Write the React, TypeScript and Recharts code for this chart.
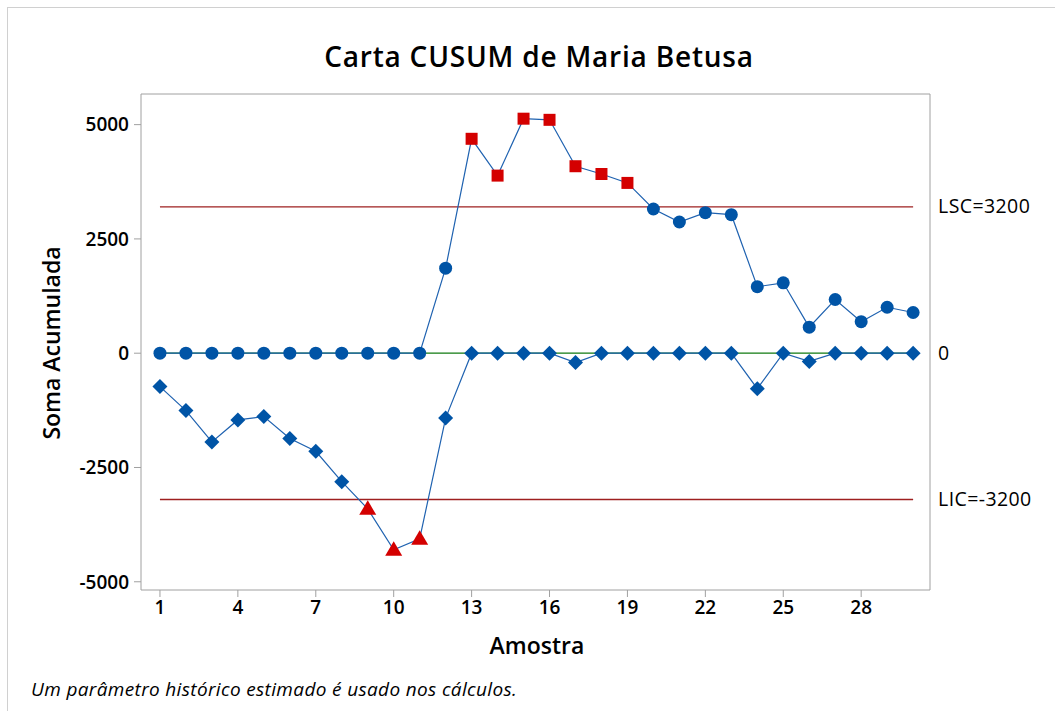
import React from 'react';
import { ComposedChart, Line, XAxis, YAxis, ReferenceArea } from 'recharts';

const samples = [1, 2, 3, 4, 5, 6, 7, 8, 9, 10, 11, 12, 13, 14, 15, 16, 17, 18, 19, 20, 21, 22, 23, 24, 25, 26, 27, 28, 29, 30];
const upperCusum = [0, 0, 0, 0, 0, 0, 0, 0, 0, 0, 0, 1860, 4690, 3885, 5130, 5105, 4090, 3920, 3725, 3155, 2870, 3075, 3030, 1455, 1540, 570, 1175, 690, 1005, 890];
const lowerCusum = [-730, -1255, -1940, -1460, -1385, -1865, -2145, -2810, -3405, -4300, -4060, -1420, 0, 0, 0, 0, -205, 0, 0, 0, 0, 0, 0, -775, 0, -180, 0, 0, 0, 0];
const LSC = 3200;
const LIC = -3200;
const CENTER = 0;
const xTicks = [1, 4, 7, 10, 13, 16, 19, 22, 25, 28];
const yTicks = [-5000, -2500, 0, 2500, 5000];
const xDomain = [0.27, 30.65];
const yDomain = [-5180, 5670];

const data = samples.map((s, i) => ({
  sample: s,
  upper: upperCusum[i],
  lower: lowerCusum[i],
  lsc: LSC,
  lic: LIC,
  center: CENTER,
}));

const BLUE = '#0054a6';
const LINE_BLUE = '#1f62b0';
const RED = '#d40000';
const LIMIT = '#9e2020';
const GREEN = '#107a10';
const FONT = '"Open Sans", "Noto Sans", sans-serif';

const UpperDot = (props: any) => {
  const { cx, cy, value, index } = props;
  if (cx == null || cy == null) return null;
  if (value > LSC) {
    return <rect key={`u${index}`} x={cx - 6} y={cy - 6} width={12} height={12} fill={RED} />;
  }
  return <circle key={`u${index}`} cx={cx} cy={cy} r={6.5} fill={BLUE} />;
};

const LowerDot = (props: any) => {
  const { cx, cy, value, index } = props;
  if (cx == null || cy == null) return null;
  if (value < LIC) {
    return (
      <polygon
        key={`l${index}`}
        points={`${cx},${cy - 8.5} ${cx - 8.5},${cy + 6} ${cx + 8.5},${cy + 6}`}
        fill={RED}
      />
    );
  }
  const d = 7.5;
  return (
    <polygon
      key={`l${index}`}
      points={`${cx},${cy - d} ${cx + d},${cy} ${cx},${cy + d} ${cx - d},${cy}`}
      fill={BLUE}
    />
  );
};

const makeEndLabel = (text: string) => (props: any) => {
  const { x, y, index } = props;
  if (index !== samples.length - 1) return null;
  return (
    <text key={`lab-${text}`} x={x + 25} y={y} dy={6.5} fontSize={19.5} letterSpacing={0.4} fontFamily={FONT} fill="#000" textAnchor="start">
      {text}
    </text>
  );
};

export default function App() {
  return (
    <div style={{ position: 'absolute', left: 0, top: 0, width: 1055, height: 711, background: '#fff', overflow: 'hidden' }}>
      <div
        style={{
          position: 'absolute',
          left: 7,
          top: 7,
          width: 1100,
          height: 800,
          borderTop: '1px solid #d0d0d0',
          borderLeft: '1px solid #d0d0d0',
        }}
      />
      <div style={{ position: 'absolute', left: 0, top: 0 }}>
        <ComposedChart
          width={1055}
          height={711}
          data={data}
          margin={{ top: 94, right: 125, bottom: 91, left: 81 }}
        >
          <XAxis
            dataKey="sample"
            type="number"
            domain={xDomain}
            ticks={xTicks}
            allowDataOverflow
            axisLine={false}
            tickLine={{ stroke: '#a0a0a0' }}
            tickSize={7}
            tickMargin={4}
            height={30}
            tick={{ fill: '#000', fontSize: 19, fontWeight: 600, fontFamily: FONT }}
          />
          <YAxis
            type="number"
            domain={yDomain}
            ticks={yTicks}
            allowDataOverflow
            axisLine={false}
            tickLine={{ stroke: '#a0a0a0' }}
            tickSize={7}
            tickMargin={5}
            width={60}
            tick={{ fill: '#000', fontSize: 19, fontWeight: 600, fontFamily: FONT }}
          />
          <ReferenceArea
            x1={xDomain[0]}
            x2={xDomain[1]}
            y1={yDomain[0]}
            y2={yDomain[1]}
            fill="none"
            stroke="#a0a0a0"
            strokeWidth={1}
          />
          <Line dataKey="center" stroke={GREEN} strokeWidth={1.3} dot={false} isAnimationActive={false} label={makeEndLabel('0')} />
          <Line dataKey="lsc" stroke={LIMIT} strokeWidth={1.3} dot={false} isAnimationActive={false} label={makeEndLabel('LSC=3200')} />
          <Line dataKey="lic" stroke={LIMIT} strokeWidth={1.3} dot={false} isAnimationActive={false} label={makeEndLabel('LIC=-3200')} />
          <Line dataKey="lower" stroke={LINE_BLUE} strokeWidth={1.2} dot={LowerDot} activeDot={false} isAnimationActive={false} />
          <Line dataKey="upper" stroke={LINE_BLUE} strokeWidth={1.2} dot={UpperDot} activeDot={false} isAnimationActive={false} />
        </ComposedChart>
      </div>
      <svg width={1055} height={711} style={{ position: 'absolute', left: 0, top: 0, pointerEvents: 'none' }}>
        <text x={539} y={67} textAnchor="middle" fontSize={28} letterSpacing={0.8} fontWeight={600} fontFamily={FONT} fill="#000">
          Carta CUSUM de Maria Betusa
        </text>
        <text
          x={0}
          y={0}
          transform="translate(60,343) rotate(-90)"
          textAnchor="middle"
          fontSize={23}
          fontWeight={600}
          fontFamily={FONT}
          fill="#000"
        >
          Soma Acumulada
        </text>
        <text x={537} y={654} textAnchor="middle" fontSize={23} fontWeight={600} fontFamily={FONT} fill="#000">
          Amostra
        </text>
        <text x={31} y={696} fontSize={19} letterSpacing={0.35} fontStyle="italic" fontFamily={FONT} fill="#000">
          Um parâmetro histórico estimado é usado nos cálculos.
        </text>
      </svg>
    </div>
  );
}
